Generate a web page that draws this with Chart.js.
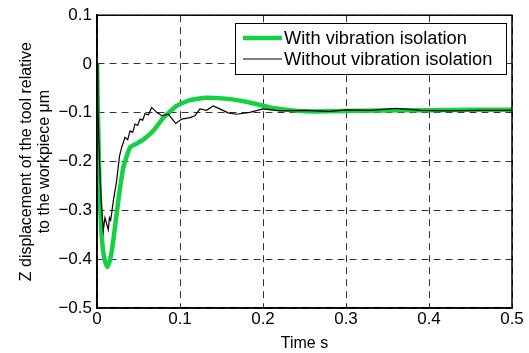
<!DOCTYPE html>
<html>
<head>
<meta charset="utf-8">
<script src="https://cdn.jsdelivr.net/npm/chart.js@4/dist/chart.umd.min.js"></script>
<style>
  html, body { margin: 0; padding: 0; background: #fff; }
  #wrap { width: 529px; height: 353px; position: relative; }
</style>
</head>
<body>
<div id="wrap"><canvas id="c"></canvas></div>
<script>
// Time axis (s) and Z displacement (µm)
const timeWith = [0, 0.001, 0.003, 0.006, 0.009, 0.0125, 0.016, 0.0197, 0.0257, 0.0317, 0.0398, 0.048, 0.0558, 0.0678, 0.08, 0.096, 0.112, 0.132, 0.16, 0.184, 0.208, 0.23, 0.25, 0.28, 0.32, 0.36, 0.4, 0.45, 0.5];
const zWith    = [0, -0.09, -0.25, -0.36, -0.40, -0.416, -0.40, -0.361, -0.28, -0.212, -0.171, -0.163, -0.155, -0.137, -0.11, -0.086, -0.074, -0.069, -0.072, -0.079, -0.089, -0.094, -0.097, -0.097, -0.096, -0.095, -0.095, -0.094, -0.094];

const timeWithout = [0, 0.001, 0.003, 0.005, 0.0076, 0.0096, 0.0116, 0.0136, 0.015, 0.0165, 0.0197, 0.0237, 0.027, 0.0297, 0.0337, 0.037, 0.0398, 0.043, 0.0458, 0.049, 0.0518, 0.055, 0.0578, 0.062, 0.0659, 0.0719, 0.078, 0.086, 0.095, 0.102, 0.112, 0.118, 0.124, 0.132, 0.14, 0.148, 0.158, 0.168, 0.184, 0.2, 0.22, 0.25, 0.28, 0.3, 0.33, 0.36, 0.39, 0.42, 0.46, 0.5];
const zWithout    = [0, -0.08, -0.2, -0.28, -0.341, -0.315, -0.327, -0.34, -0.315, -0.32, -0.28, -0.239, -0.19, -0.171, -0.15, -0.155, -0.137, -0.14, -0.123, -0.126, -0.113, -0.115, -0.102, -0.104, -0.089, -0.099, -0.106, -0.103, -0.122, -0.113, -0.11, -0.106, -0.092, -0.095, -0.086, -0.092, -0.1, -0.103, -0.099, -0.092, -0.096, -0.095, -0.097, -0.094, -0.095, -0.091, -0.095, -0.096, -0.095, -0.095];

const xTicks = [0, 0.1, 0.2, 0.3, 0.4, 0.5];
const yTicks = [0.1, 0, -0.1, -0.2, -0.3, -0.4, -0.5];
const seriesNames = ['With vibration isolation', 'Without vibration isolation'];

const FONT = '"Liberation Sans", Arial, sans-serif';

function fmt(v) {
    const r = Math.round(v * 10) / 10;
    if (r === 0) return '0';
    return (r < 0 ? '\u2212' : '') + Math.abs(r).toFixed(1);
}

// Boxed legend drawn inside the plot, MATLAB style
const boxLegend = {
    id: 'boxLegend',
    afterDraw(chart) {
        const ctx = chart.ctx;
        const x = 235, y = 23, w = 271, h = 51;
        ctx.save();
        ctx.fillStyle = '#fff';
        ctx.fillRect(x, y, w, h);
        ctx.strokeStyle = '#000';
        ctx.lineWidth = 1;
        ctx.strokeRect(x + 0.5, y + 0.5, w, h);
        ctx.font = '18.3px ' + FONT;
        ctx.textBaseline = 'middle';
        chart.data.datasets.forEach((ds, i) => {
            const ly = y + 15 + i * 21;
            ctx.strokeStyle = ds.borderColor;
            ctx.lineWidth = ds.borderWidth;
            ctx.beginPath();
            ctx.moveTo(x + 8, ly);
            ctx.lineTo(x + 47, ly);
            ctx.stroke();
            ctx.fillStyle = '#000';
            ctx.fillText(ds.label, x + 49, ly + 1);
        });
        ctx.restore();
    }
};

new Chart(document.getElementById('c'), {
    type: 'line',
    data: {
        datasets: [
            {
                label: seriesNames[0],
                data: timeWith.map((t, i) => ({ x: t, y: zWith[i] })),
                borderColor: '#14d042',
                borderWidth: 4.5,
                pointRadius: 0,
                tension: 0.15,
                order: 2,
            },
            {
                label: seriesNames[1],
                data: timeWithout.map((t, i) => ({ x: t, y: zWithout[i] })),
                borderColor: '#000',
                borderWidth: 1.2,
                pointRadius: 0,
                tension: 0,
                order: 1,
            },
        ],
    },
    options: {
        responsive: true,
        maintainAspectRatio: false,
        animation: false,
        layout: { padding: { left: 17, right: 17, top: 15, bottom: 0 } },
        plugins: {
            legend: { display: false },
            tooltip: { enabled: false },
        },
        scales: {
            x: {
                type: 'linear',
                min: 0,
                max: 0.5,
                afterBuildTicks: (axis) => { axis.ticks = xTicks.map(v => ({ value: v })); },
                afterFit: (axis) => { axis.height = 45; },
                ticks: {
                    color: '#000',
                    font: { family: FONT, size: 17 },
                    padding: 1,
                    maxRotation: 0,
                    callback: (v) => fmt(v),
                },
                grid: {
                    color: '#333',
                    drawTicks: false,
                    lineWidth: 1,
                },
                border: { color: '#000', width: 1.5, dash: [7, 5] },
                title: {
                    display: true,
                    text: 'Time s',
                    color: '#000',
                    font: { family: FONT, size: 16 },
                    padding: { top: 0, bottom: 0 },
                },
            },
            y: {
                min: -0.5,
                max: 0.1,
                afterBuildTicks: (axis) => { axis.ticks = yTicks.map(v => ({ value: v })); },
                afterFit: (axis) => { axis.width = 80; },
                ticks: {
                    color: '#000',
                    font: { family: FONT, size: 17 },
                    padding: 5,
                    callback: (v) => fmt(v),
                },
                grid: {
                    color: '#333',
                    drawTicks: false,
                    lineWidth: 1,
                },
                border: { color: '#000', width: 1.5, dash: [7, 5] },
                title: {
                    display: true,
                    text: ['Z displacement of the tool relative', 'to the workpiece \u03bcm'],
                    color: '#000',
                    font: { family: FONT, size: 16, lineHeight: 1.15 },
                    padding: { top: 0, bottom: 6 },
                },
            },
        },
    },
    plugins: [boxLegend, {
        id: 'frame',
        afterDatasetsDraw(chart) {
            const a = chart.chartArea, ctx = chart.ctx;
            ctx.save();
            ctx.strokeStyle = '#000';
            ctx.lineWidth = 1.5;
            ctx.strokeRect(a.left, a.top, a.right - a.left, a.bottom - a.top);
            ctx.restore();
        }
    }],
});
</script>
</body>
</html>
